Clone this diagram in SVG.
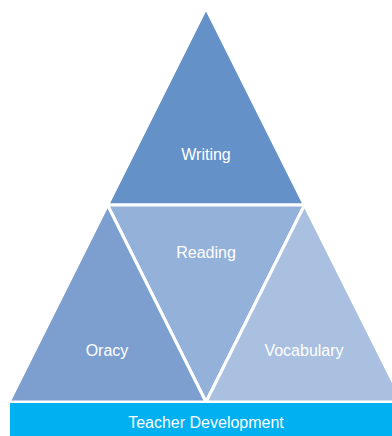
<svg xmlns="http://www.w3.org/2000/svg" width="392" height="436" viewBox="0 0 392 436">
  <style>
    .tri { stroke: #FFFFFF; stroke-width: 3; stroke-linejoin: miter; }
    .lbl { font-family: "Liberation Sans", "Open Sans", Arial, sans-serif; font-size: 16px; fill: #FFFFFF; text-anchor: middle; }
  </style>
  <rect width="392" height="436" fill="#FFFFFF"/>
  <g id="connectors"/>
  <g id="node-writing">
    <polygon class="tri" points="206,8 304.5,205 107.5,205" fill="#6591C9"/>
    <text class="lbl" x="206" y="160">Writing</text>
  </g>
  <g id="node-reading">
    <polygon class="tri" points="107.5,205 304.5,205 206,402" fill="#93B1D9"/>
    <text class="lbl" x="206" y="258">Reading</text>
  </g>
  <g id="node-oracy">
    <polygon class="tri" points="107.5,205 206,402 9,402" fill="#7C9FCF"/>
    <text class="lbl" x="107" y="356">Oracy</text>
  </g>
  <g id="node-vocabulary">
    <polygon class="tri" points="304.5,205 403,402 206,402" fill="#A9C0E0"/>
    <text class="lbl" x="304" y="356">Vocabulary</text>
  </g>
  <g id="node-teacher-development">
    <rect x="10" y="403" width="382" height="33" fill="#00B0F0"/>
    <text class="lbl" x="206" y="428">Teacher Development</text>
  </g>
</svg>
